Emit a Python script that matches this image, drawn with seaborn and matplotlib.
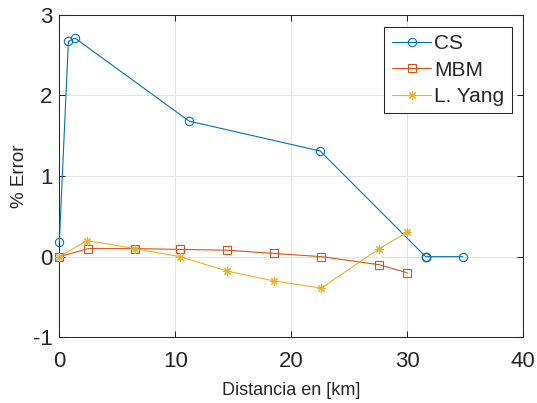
import numpy as np
import pandas as pd
import matplotlib
matplotlib.use("Agg")
import matplotlib.pyplot as plt
import seaborn as sns

# Percentage error versus distance for the three methods
cs_km = [0.0, 0.78, 1.35, 11.2, 22.5, 31.6, 31.6, 31.6, 34.8]
cs_err = [0.18, 2.67, 2.71, 1.68, 1.31, 0.0, 0.0, 0.0, 0.0]

mbm_km = [0.0, 2.5, 6.5, 10.4, 14.5, 18.5, 22.6, 27.6, 30.0]
mbm_err = [0.0, 0.10, 0.10, 0.09, 0.08, 0.04, 0.0, -0.10, -0.20]

yang_km = [0.0, 2.4, 6.5, 10.4, 14.5, 18.5, 22.6, 27.6, 30.0]
yang_err = [0.0, 0.20, 0.10, 0.0, -0.18, -0.30, -0.39, 0.10, 0.30]

series_names = ["CS", "MBM", "L. Yang"]
x_ticks = [0, 10, 20, 30, 40]
y_ticks = [-1, 0, 1, 2, 3]
x_label = "Distancia en [km]"
y_label = "% Error"

colors = ["#0072BD", "#D95319", "#EDB120"]
markers = ["o", "s", (8, 2, 0)]

sns.set_theme(style="whitegrid")
plt.rcParams["font.family"] = ["Liberation Sans", "DejaVu Sans"]
plt.rcParams["axes.unicode_minus"] = False

fig = plt.figure(figsize=(5.37, 4.03), dpi=100)
ax = fig.add_axes([0.1105, 0.163, 0.8635, 0.8005])

data = [(cs_km, cs_err), (mbm_km, mbm_err), (yang_km, yang_err)]
for (xs, ys), name, col, mk in zip(data, series_names, colors, markers):
    df = pd.DataFrame({"km": xs, "err": ys})
    sns.lineplot(data=df, x="km", y="err", sort=False, estimator=None,
                 ax=ax, color=col, linewidth=0.8, marker=mk,
                 markersize=6, markerfacecolor="none",
                 markeredgecolor=col, markeredgewidth=0.8, label=name,
                 clip_on=False, zorder=3)

ax.set_xlim(0, 40)
ax.set_ylim(-1, 3)
ax.set_xticks(x_ticks)
ax.set_yticks(y_ticks)

dark = "#262626"
ax.grid(True, color="#E3E3E3", linewidth=0.7)
for s in ax.spines.values():
    s.set_color(dark)
    s.set_linewidth(0.75)
    s.set_visible(True)
ax.tick_params(axis="both", which="both", direction="in", length=4,
               width=0.75, color=dark, labelcolor=dark, labelsize=16,
               top=True, right=True, bottom=True, left=True)
ax.tick_params(axis="x", pad=10)
ax.tick_params(axis="y", pad=5)

ax.set_xlabel(x_label, fontsize=13, color=dark, labelpad=7)
ax.set_ylabel(y_label, fontsize=13.5, color=dark, labelpad=3)

handles, labels = ax.get_legend_handles_labels()
leg = ax.legend(handles, labels, loc="upper right",
                bbox_to_anchor=(0.976, 0.962), borderaxespad=0,
                numpoints=1, fontsize=15, frameon=True, fancybox=False,
                handlelength=1.9, handletextpad=0.15, labelspacing=0.35,
                borderpad=0.35)
leg.get_frame().set_edgecolor(dark)
leg.get_frame().set_linewidth(0.75)
leg.get_frame().set_alpha(1)
leg.set_zorder(5)

fig.savefig("out.png", dpi=100, facecolor="white")
